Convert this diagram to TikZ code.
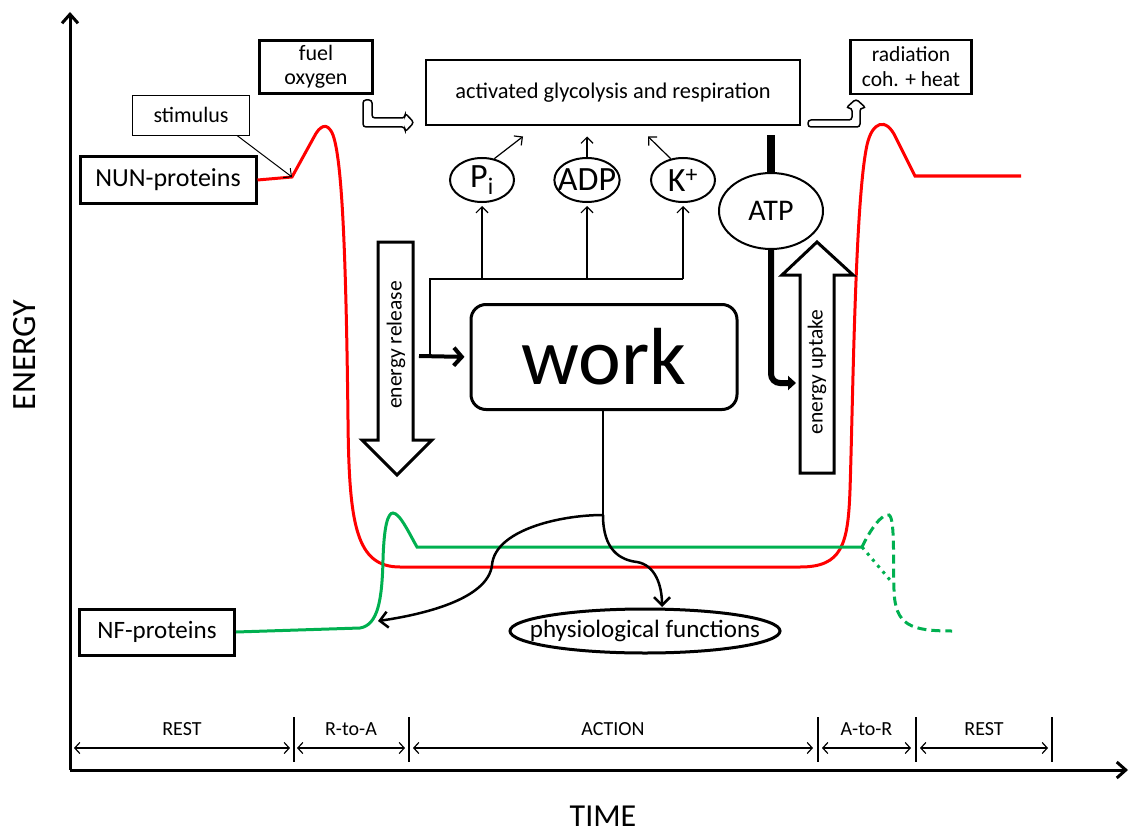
\documentclass[tikz,border=0pt]{standalone}
\usepackage{fontspec}
\setmainfont{Carlito}
\usetikzlibrary{arrows.meta,calc,shapes.geometric}
\definecolor{curvegreen}{RGB}{0,176,80}

\begin{document}
\begin{tikzpicture}[x=1pt, y=-1pt,
  box/.style = {draw, line width=2.5pt, align=center, inner sep=0pt},
  oval/.style = {draw, ellipse, line width=2pt, inner xsep=-6pt, inner ysep=-4pt},
  tip/.style = {-{Straight Barb[length=6pt,width=12pt]}},
  span/.style = {{Straight Barb[length=5pt,width=11pt]}-{Straight Barb[length=5pt,width=11pt]}, line width=1.2pt},
  hollow/.style = {draw, line width=2.5pt, fill=white}]
	\useasboundingbox (0,0) rectangle (1130,832);

	%% Axes
	\coordinate (o) at (70,770);
	\draw[line width=3pt, -{Straight Barb[length=9pt,width=16pt]}] (o) -- (70,12);
	\draw[line width=3pt, -{Straight Barb[length=9pt,width=16pt]}] (o) -- (1128,770);
	\node[rotate=90, font=\fontsize{34}{40}\selectfont] (energy) at (25,355) {ENERGY};
	\node[inner sep=0pt, anchor=base, font=\fontsize{32}{38}\selectfont] (time) at (603,826) {TIME};

	%% Time spans
	\foreach \x in {294,409,818,916,1052}
		\draw[line width=1.2pt] (\x,717) -- (\x,762);
	\foreach \a/\b/\t in {74/290/REST, 297/405/R-to-A, 413/813/ACTION, 822/911/A-to-R, 920/1048/REST}
		\draw[span] (\a,748) -- node[above=8pt, font=\fontsize{20}{24}\selectfont] {\t} (\b,748);

	%% Nodes
	\node[box, line width=0.8pt, minimum width=117pt, minimum height=40pt, font=\fontsize{22}{26}\selectfont] (stim) at (191,115) {stimulus};
	\node[box, minimum width=113pt, minimum height=53pt, font=\fontsize{22}{24}\selectfont] (fuel) at (316,67) {fuel\\oxygen};
	\node[box, line width=3pt, minimum width=176pt, minimum height=46pt, font=\fontsize{26}{30}\selectfont] (nun) at (168,180) {NUN-proteins};
	\node[box, line width=2pt, minimum width=374pt, minimum height=65pt, font=\fontsize{22.4}{26}\selectfont] (glyco) at (613,93) {activated glycolysis and respiration};
	\node[box, minimum width=121pt, minimum height=54pt, font=\fontsize{21.5}{25}\selectfont] (rad) at (911,67) {radiation\\coh. + heat};

	\node[oval, minimum width=64pt, minimum height=44pt, font=\fontsize{34}{38}\selectfont] (pi) at (482,180) {P\textsubscript{i}};
	\node[oval, minimum width=64pt, minimum height=44pt, font=\fontsize{34}{38}\selectfont] (adp) at (587,180) {ADP};
	\node[oval, minimum width=64pt, minimum height=44pt, font=\fontsize{34}{38}\selectfont] (kp) at (683,180) {K\textsuperscript{+}};
	\node[oval, minimum width=104pt, minimum height=76pt, font=\fontsize{30}{34}\selectfont] (atp) at (771,211) {ATP};

	\node[box, line width=3pt, rounded corners=15pt, minimum width=266pt, minimum height=105pt, font=\fontsize{81}{86}\selectfont] (work) at (604,357) {work};
	\node[oval, line width=3pt, inner xsep=-30pt, minimum width=270pt, minimum height=44pt, font=\fontsize{25}{30}\selectfont] (phys) at (645,631) {physiological functions};
	\node[box, line width=3pt, minimum width=155pt, minimum height=46pt, font=\fontsize{25}{30}\selectfont] (nf) at (157,632) {NF-proteins};

	%% Energy curves
	\coordinate (kink) at (292,177);
	\draw[red, line width=3pt] (nun.east) -- (kink) -- (314,137)
		.. controls (319,127) and (327,120) .. (333,135)
		.. controls (342,160) and (346,250) .. (348,420)
		.. controls (349,525) and (356,567) .. (400,567) -- (800,567)
		.. controls (842,567) and (848,545) .. (850,490)
		.. controls (853,400) and (855,200) .. (867,145)
		.. controls (872,122) and (886,116) .. (896,138) -- (915,176) -- (1021,176);
	\coordinate (nfhit) at (378,621);
	\draw[curvegreen, line width=3pt] (nf.east) -- (360,628)
		.. controls (378,625) and (382,600) .. (383,560)
		.. controls (384,525) and (388,513) .. (393,513)
		.. controls (400,513) and (410,535) .. (417,547) -- (862,547) coordinate (gend);
	\draw[curvegreen, line width=3pt, dash pattern=on 9pt off 5pt] (gend)
		.. controls (870,530) and (882,513) .. (889,515)
		.. controls (895,518) and (893,560) .. (894,590)
		.. controls (895,625) and (910,631) .. (952,631);
	\draw[curvegreen, line width=3pt, dash pattern=on 3pt off 5pt] (gend) -- (890,580);

	%% Block arrows
	\draw[hollow, line width=3pt] (378,242) -- (413,242) -- (413,440) -- (432,440) -- (397,475) -- (362,440) -- (378,440) -- cycle;
	\node[rotate=90, font=\fontsize{21.5}{25}\selectfont] (rel) at (396,345) {energy release};
	\draw[hollow, line width=3pt] (800,473) -- (834,473) -- (834,275) -- (853,275) -- (817,242) -- (782,275) -- (800,275) -- cycle;
	\node[rotate=90, font=\fontsize{21.5}{25}\selectfont] (upt) at (817,372) {energy uptake};
	\draw[line width=1.5pt, rounded corners=3pt] (363,100) -- (363,127) -- (405,127) -- (405,132) -- (414,122.5) -- (405,113) -- (405,118) -- (372,118) -- (372,100) -- cycle;
	\draw[line width=1.5pt, rounded corners=3pt] (808,120) -- (852,120) -- (852,108) -- (846,108) -- (856,99) -- (866,108) -- (860,108) -- (860,127) -- (808,127) -- cycle;

	%% Edges
	\draw[tip, line width=1pt] ([xshift=-13pt]stim.south east) -- (kink);
	\draw[tip, line width=1.2pt] (pi.60) -- ($(glyco.south)+(-90,10)$);
	\draw[tip, line width=1.2pt] (adp.north) -- ($(glyco.south)+(-26,10)$);
	\draw[tip, line width=1.2pt] (kp.120) -- ($(glyco.south)+(35,10)$);

	\coordinate (bl) at (430,356);
	\coordinate (bj) at (482,279);
	\draw[line width=1.2pt] (bl) |- (bj) -- (kp.south |- bj);
	\draw[tip, line width=1.2pt] (bj) -- ([yshift=-3pt]pi.south);
	\draw[tip, line width=1.2pt] (adp.south |- bj) -- ([yshift=-3pt]adp.south);
	\draw[tip, line width=1.2pt] (kp.south |- bj) -- ([yshift=-3pt]kp.south);
	\draw[line width=4pt, -{Straight Barb[length=8pt,width=18pt]}, shorten >=5pt] (419,356) -- (work.west);

	\draw[line width=8pt] ([yshift=-9pt]glyco.south -| atp.north) -- (atp.north);
	\draw[line width=6pt, rounded corners=9pt, -{Triangle[length=8pt,width=14pt]}] (atp.south) |- (796,383);

	\coordinate (split) at (603,515);
	\coordinate (physhit) at (662,607);
	\draw[line width=2.5pt] (work.south -| split) -- (split);
	\draw[line width=2.5pt, -{Straight Barb[length=8pt,width=16pt]}] (split)
		.. controls (560,515) and (495,530) .. (492,565)
		.. controls (488,600) and (420,615) .. (nfhit);
	\draw[line width=2.5pt, -{Straight Barb[length=8pt,width=16pt]}] (split)
		.. controls (603,550) and (620,560) .. (637,562)
		.. controls (655,565) and (662,585) .. (physhit);
\end{tikzpicture}
\end{document}
